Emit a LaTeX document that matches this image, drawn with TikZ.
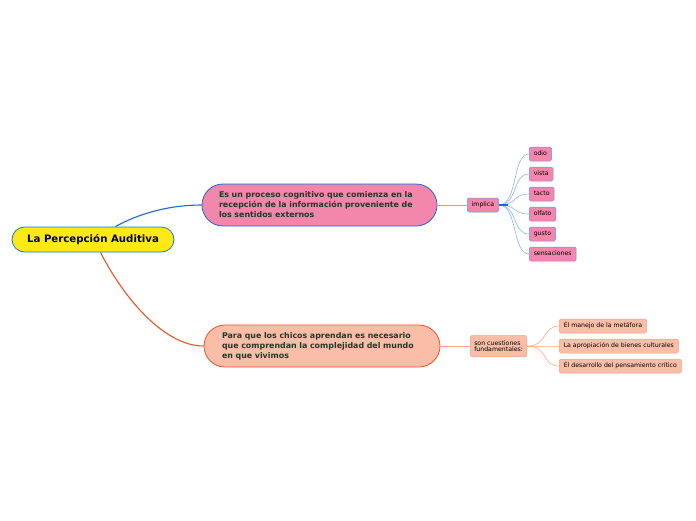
\documentclass[tikz,border=0pt]{standalone}
\usepackage{fontspec}
\setmainfont{DejaVu Sans}
\definecolor{rosa}{HTML}{F386AB}
\definecolor{azul}{HTML}{2563D6}
\definecolor{azulc}{HTML}{8FB3EE}
\definecolor{salmon}{HTML}{F9BDA8}
\definecolor{naranja}{HTML}{EC5326}
\definecolor{naranjac}{HTML}{F7A98C}
\definecolor{amarillo}{HTML}{FFE817}
\definecolor{verdet}{HTML}{1E3A28}

\begin{document}
\begin{tikzpicture}[x=1pt,y=-1pt,
  tema/.style={draw=azul, line width=0.8pt, fill=rosa, rounded corners=21pt, minimum height=42pt, text width=201pt, inner xsep=17pt, align=left, text=verdet, font=\fontsize{7.9}{10}\selectfont\bfseries},
  hoja/.style={draw=azul!70, line width=0.5pt, fill=rosa, rounded corners=1.5pt, minimum height=14pt, inner xsep=4.5pt, text height=4.5pt, text depth=1pt, font=\fontsize{6.2}{7}\selectfont, anchor=west},
  hojan/.style={hoja, draw=naranjac!90!naranja, fill=salmon}
]
\useasboundingbox (0,0) rectangle (696,520);

\node[draw=cyan!60!blue, line width=0.8pt, fill=amarillo, rounded corners=12.5pt, minimum width=162pt, minimum height=25pt, text=blue!30!black, font=\fontsize{10.2}{12}\selectfont\bfseries] (root) at (93,239.5) {La Percepción Auditiva};

\node[tema] (proceso) at (319.5,205) {Es un proceso cognitivo que comienza en la\\recepción de la información proveniente de\\los sentidos externos};
\node[tema, draw=naranja, fill=salmon, text width=200pt, inner xsep=18pt] (chicos) at (322,346) {Para que los chicos aprendan es necesario\\que comprendan la complejidad del mundo\\en que vivimos};

\draw[azul, line width=1.1pt] (root.30) .. controls (140,213) and (170,205) .. (proceso.west);
\draw[naranja, line width=1.1pt] (root.-60) .. controls (125,300) and (165,346) .. (chicos.west);

\node[hoja] (implica) at (467,205) {implica};
\node[hoja] (odio) at (529,154) {odio};
\node[hoja] (vista) at (529,174) {vista};
\node[hoja] (tacto) at (529,194) {tacto};
\node[hoja] (olfato) at (529,214) {olfato};
\node[hoja] (gusto) at (529,234) {gusto};
\node[hoja] (sensac) at (529,254) {sensaciones};

\draw[azulc, line width=0.8pt] (proceso.east) -- (implica.west);
\foreach \n in {odio,vista,tacto,olfato,gusto,sensac}
  \draw[azulc, line width=0.6pt] (implica.east) .. controls (518,205) and ([xshift=-17pt]\n.west) .. (\n.west);
\draw[azul, line width=1.2pt] (implica.east) -- ++(9,0);

\node[hojan, minimum height=21pt, align=left, text height=, text depth=, inner xsep=4pt, font=\fontsize{6.2}{6.6}\selectfont] (cuest) at (470,346) {son cuestiones\\fundamentales:};
\node[hojan] (metafora) at (559,326) {El manejo de la metáfora};
\node[hojan] (apropia) at (559,346) {La apropiación de bienes culturales};
\node[hojan] (desarrollo) at (559,366) {El desarrollo del pensamiento crítico};

\draw[naranjac, line width=0.8pt] (chicos.east) -- (cuest.west);
\foreach \n in {metafora,apropia,desarrollo}
  \draw[naranjac, line width=0.6pt] (cuest.east) .. controls (548,346) and ([xshift=-17pt]\n.west) .. (\n.west);
\end{tikzpicture}
\end{document}
